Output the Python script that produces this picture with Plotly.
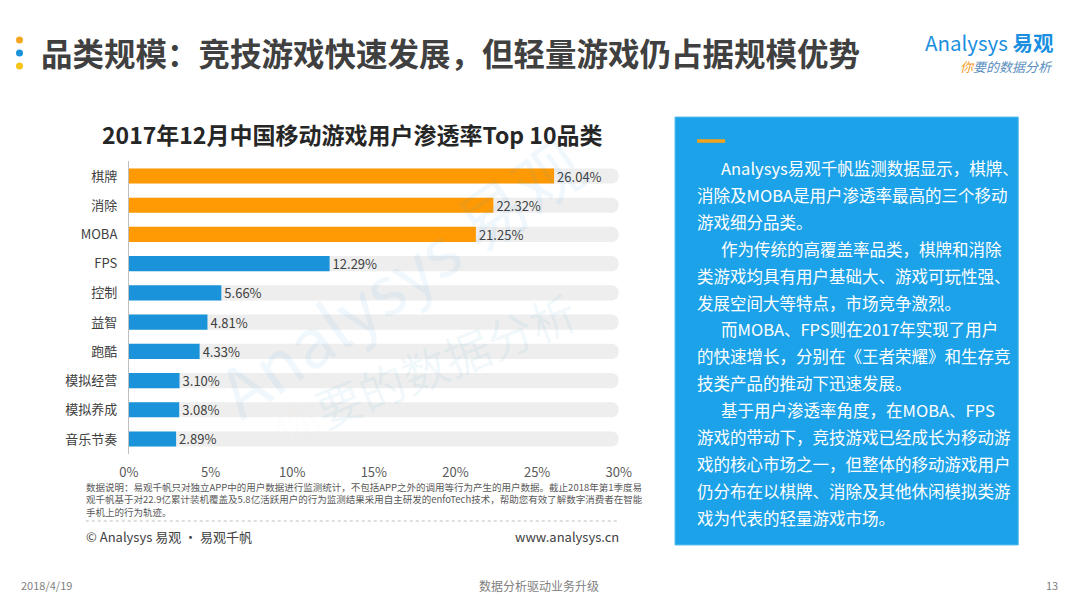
import plotly.graph_objects as go

# data
categories = ['棋牌', '消除', 'MOBA', 'FPS', '控制', '益智', '跑酷', '模拟经营', '模拟养成', '音乐节奏']
penetration = [26.04, 22.32, 21.25, 12.29, 5.66, 4.81, 4.33, 3.10, 3.08, 2.89]
track_max = 30
x_ticks = [0, 5, 10, 15, 20, 25, 30]
top_n = 3

W, H = 1080, 608
FONT = 'Noto Sans CJK SC, Noto Sans, sans-serif'
ORANGE = '#FF9A05'
BLUE = '#1A93DA'
BOX_BLUE = '#1CA2E8'


# slide pixel positions -> paper fractions (corrected for how the page lands in the screenshot)
def px(x):
    return (x - 20.5) / 0.975 / W


def py(y):
    return 1 - (y - 8) / H


def note(x, y, text, size, color, xanchor='left', **kw):
    # paper-anchored text, centred vertically on y (pixels from top)
    d = dict(x=px(x), y=py(y), xref='paper', yref='paper', xanchor=xanchor, yanchor='middle',
             text=text, showarrow=False, font=dict(size=size, color=color, family=FONT))
    d.update(kw)
    return d


bar_colors = [ORANGE if i < top_n else BLUE for i in range(len(categories))]

fig = go.Figure()

# grey rounded tracks behind each bar
fig.add_trace(go.Bar(
    y=categories, x=[track_max] * len(categories), orientation='h',
    marker=dict(color='#EEEEEE', cornerradius=8, line_width=0),
    width=0.52, hoverinfo='skip'))

fig.add_trace(go.Bar(
    y=categories, x=penetration, orientation='h',
    marker=dict(color=bar_colors, line_width=0),
    width=0.52,
    text=['{:.2f}%'.format(v) for v in penetration],
    textposition='outside', cliponaxis=False, constraintext='none',
    textfont=dict(size=13, color='#404040', family=FONT)))

ann = []
shapes = []

# watermark
ann.append(note(400, 275, 'Analysys 易观', 68, 'rgba(40,150,220,0.07)', xanchor='center', textangle=-35))
ann.append(note(425, 368, '<span style="color:#FDEBD6">你</span>要的数据分析', 46,
                'rgba(40,150,220,0.07)', xanchor='center', textangle=-22))

# page title + dots
for yy, c in [(40, '#F5A623'), (53, '#1A93DA'), (66, '#F5C518')]:
    shapes.append(dict(type='circle', xref='paper', yref='paper',
                       x0=px(18.5), x1=px(25.5), y0=py(yy + 3.5), y1=py(yy - 3.5),
                       fillcolor=c, line_width=0))
ann.append(note(41, 52, '<b>品类规模：竞技游戏快速发展，但轻量游戏仍占据规模优势</b>', 31.5, '#404040'))

# logo
ann.append(note(1054, 42, 'Analysys <b>易观</b>', 20.5, '#1A8FE0', xanchor='right'))
ann.append(note(1054, 66, '<i><span style="color:#F39A1E">你</span>要的数据分析</i>', 13, '#5A8FC0',
                xanchor='right'))

# chart title
ann.append(note(353, 134, '<b>2017年12月中国移动游戏用户渗透率Top 10品类</b>', 23, '#262626',
                xanchor='center'))

# footnote
foot = ('数据说明：易观千帆只对独立APP中的用户数据进行监测统计，不包括APP之外的调用等行为产生的用户数据。截止2018年第1季度易<br>'
        '观千帆基于对22.9亿累计装机覆盖及5.8亿活跃用户的行为监测结果采用自主研发的enfoTech技术，帮助您有效了解数字消费者在智能<br>'
        '手机上的行为轨迹。')
ann.append(note(86, 499, foot, 9.5, '#595959', align='left'))
shapes.append(dict(type='line', xref='paper', yref='paper', x0=px(88), x1=px(620),
                   y0=py(521), y1=py(521), line=dict(color='#BFBFBF', width=1, dash='dot')))
ann.append(note(86, 536, '© Analysys 易观 · 易观千帆', 13, '#404040'))
ann.append(note(621, 536, 'www.analysys.cn', 13, '#404040', xanchor='right'))

# right text box
shapes.append(dict(type='rect', xref='paper', yref='paper', x0=px(675), x1=px(1017),
                   y0=py(545), y1=py(117), fillcolor=BOX_BLUE,
                   line=dict(color='#5EC0F0', width=1)))
shapes.append(dict(type='line', xref='paper', yref='paper', x0=px(697), x1=px(725),
                   y0=py(141), y1=py(141), line=dict(color='#F7A21B', width=3.5)))
box_lines = [
    (True, 'Analysys易观千帆监测数据显示，棋牌、'),
    (False, '消除及MOBA是用户渗透率最高的三个移动'),
    (False, '游戏细分品类。'),
    (True, '作为传统的高覆盖率品类，棋牌和消除'),
    (False, '类游戏均具有用户基础大、游戏可玩性强、'),
    (False, '发展空间大等特点，市场竞争激烈。'),
    (True, '而MOBA、FPS则在2017年实现了用户'),
    (False, '的快速增长，分别在《王者荣耀》和生存竞'),
    (False, '技类产品的推动下迅速发展。'),
    (True, '基于用户渗透率角度，在MOBA、FPS'),
    (False, '游戏的带动下，竞技游戏已经成长为移动游'),
    (False, '戏的核心市场之一，但整体的移动游戏用户'),
    (False, '仍分布在以棋牌、消除及其他休闲模拟类游'),
    (False, '戏为代表的轻量游戏市场。'),
]
for i, (indent, line) in enumerate(box_lines):
    ann.append(note(719 if indent else 695, 168 + i * 26.9, line, 16.5, 'white'))

# page footer
ann.append(note(21, 585, '2018/4/19', 11, '#7F7F7F'))
ann.append(note(540, 585, '数据分析驱动业务升级', 12, '#7F7F7F', xanchor='center'))
ann.append(note(1059, 585, '13', 11, '#7F7F7F', xanchor='right'))

fig.update_layout(
    width=W, height=H,
    margin=dict(l=0, r=0, t=0, b=0),
    paper_bgcolor='white', plot_bgcolor='rgba(0,0,0,0)',
    barmode='overlay', showlegend=False,
    font=dict(family=FONT),
    annotations=ann, shapes=shapes,
    xaxis=dict(domain=[px(131), px(619)], range=[0, track_max], tickmode='array',
               tickvals=x_ticks, ticktext=['{}%'.format(v) for v in x_ticks],
               showgrid=False, zeroline=False, showline=False,
               ticklabelstandoff=9, tickfont=dict(size=13, color='#595959')),
    yaxis=dict(domain=[py(453.6), py(161.4)], categoryorder='array',
               categoryarray=categories[::-1], showgrid=False, zeroline=False,
               showline=True, linecolor='#BFBFBF', linewidth=1,
               ticklabelstandoff=8, tickfont=dict(size=13, color='#404040')),
)

fig.write_html("out.html")
